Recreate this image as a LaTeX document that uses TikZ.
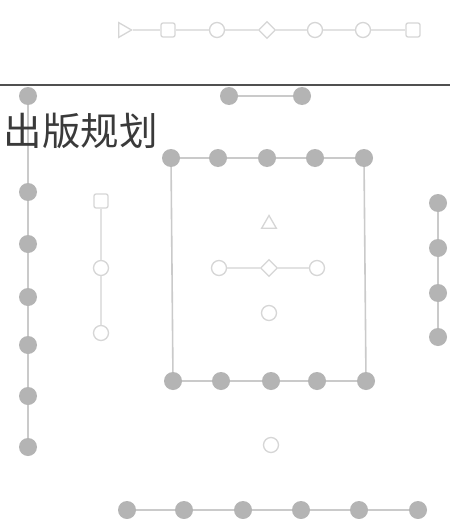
\documentclass[tikz,border=0pt]{standalone}
\usepackage{fontspec}
\newfontfamily\cjk{Noto Sans CJK SC}
\usetikzlibrary{shapes.geometric}
\definecolor{dotfill}{HTML}{B4B4B4}
\definecolor{dotline}{HTML}{CACACA}
\definecolor{ringline}{HTML}{D6D6D6}
\definecolor{ringedge}{HTML}{E2E2E2}
\definecolor{rulecol}{HTML}{505050}
\definecolor{textcol}{HTML}{3A3A3A}
\tikzset{
  dot/.style={circle,fill=dotfill,draw=none,minimum size=18pt,inner sep=0pt},
  ring/.style={circle,draw=ringline,line width=1.3pt,fill=white,minimum size=15pt,inner sep=0pt},
  sqring/.style={rectangle,rounded corners=2pt,draw=ringline,line width=1.3pt,fill=white,minimum size=14pt,inner sep=0pt},
  triring/.style={regular polygon,regular polygon sides=3,draw=ringline,line width=1.3pt,fill=white,minimum size=17pt,inner sep=0pt},
  diaring/.style={diamond,draw=ringline,line width=1.3pt,fill=white,minimum size=17pt,inner sep=0pt},
  dotedge/.style={draw=dotline,line width=1.6pt},
  ringedgest/.style={draw=ringedge,line width=1.2pt}
}
\begin{document}
\begin{tikzpicture}[x=1pt,y=-1pt]
\useasboundingbox (0,0) rectangle (450,519);
\fill[white] (0,0) rectangle (450,519);
% top ring row
\node[triring,shape border rotate=-90] (t1) at (123,30) {};
\node[sqring] (t2) at (168,30) {};
\node[ring] (t3) at (217,30) {};
\node[diaring] (t4) at (267,30) {};
\node[ring] (t5) at (315,30) {};
\node[ring] (t6) at (363,30) {};
\node[sqring] (t7) at (413,30) {};
% rule
\coordinate (rl) at (0,85);
\coordinate (rr) at (450,85);
\draw[rulecol,line width=1.6pt] (rl) -- (rr);
% left column
\node[dot] (l0) at (28,96) {};
\node[dot] (l1) at (28,192) {};
\node[dot] (l2) at (28,244) {};
\node[dot] (l3) at (28,297) {};
\node[dot] (l4) at (28,345) {};
\node[dot] (l5) at (28,396) {};
\node[dot] (l6) at (28,447) {};
% pair under rule
\node[dot] (p1) at (229,96) {};
\node[dot] (p2) at (302,96) {};
% box top row
\node[dot] (a1) at (171,158) {};
\node[dot] (a2) at (218,158) {};
\node[dot] (a3) at (267,158) {};
\node[dot] (a4) at (315,158) {};
\node[dot] (a5) at (364,158) {};
% box bottom row
\node[dot] (b1) at (173,381) {};
\node[dot] (b2) at (221,381) {};
\node[dot] (b3) at (271,381) {};
\node[dot] (b4) at (317,381) {};
\node[dot] (b5) at (366,381) {};
% right column
\node[dot] (r1) at (438,203) {};
\node[dot] (r2) at (438,248) {};
\node[dot] (r3) at (438,293) {};
\node[dot] (r4) at (438,337) {};
% bottom row
\node[dot] (z1) at (127,510) {};
\node[dot] (z2) at (184,510) {};
\node[dot] (z3) at (243,510) {};
\node[dot] (z4) at (301,510) {};
\node[dot] (z5) at (359,510) {};
\node[dot] (z6) at (418,510) {};
% inner left column
\node[sqring] (c1) at (101,201) {};
\node[ring] (c2) at (101,268) {};
\node[ring] (c3) at (101,333) {};
% inner cross
\node[triring] (x0) at (269,224) {};
\node[ring] (x1) at (219,268) {};
\node[diaring] (x2) at (269,268) {};
\node[ring] (x3) at (317,268) {};
\node[ring] (x4) at (269,313) {};
\node[ring] (y1) at (271,445) {};
% edges
\path[ringedgest] (t1) -- (t2) (t2) -- (t3) (t3) -- (t4) (t4) -- (t5) (t5) -- (t6) (t6) -- (t7);
\path[dotedge] (l0) -- (l1) (l1) -- (l2) (l2) -- (l3) (l3) -- (l4) (l4) -- (l5) (l5) -- (l6);
\path[dotedge] (p1) -- (p2);
\path[dotedge] (a1) -- (a2) (a2) -- (a3) (a3) -- (a4) (a4) -- (a5);
\path[dotedge] (b1) -- (b2) (b2) -- (b3) (b3) -- (b4) (b4) -- (b5);
\path[dotedge] (a1) -- (b1) (a5) -- (b5);
\path[dotedge] (r1) -- (r2) (r2) -- (r3) (r3) -- (r4);
\path[dotedge] (z1) -- (z2) (z2) -- (z3) (z3) -- (z4) (z4) -- (z5) (z5) -- (z6);
\path[ringedgest] (c1) -- (c2) (c2) -- (c3);
\path[ringedgest] (x1) -- (x2) (x2) -- (x3);
% title text
\node[anchor=east,inner sep=0pt,text=textcol,font=\cjk\fontsize{38.5}{38.5}\selectfont] (title) at (158,131) {出版规划};
\end{tikzpicture}
\end{document}
